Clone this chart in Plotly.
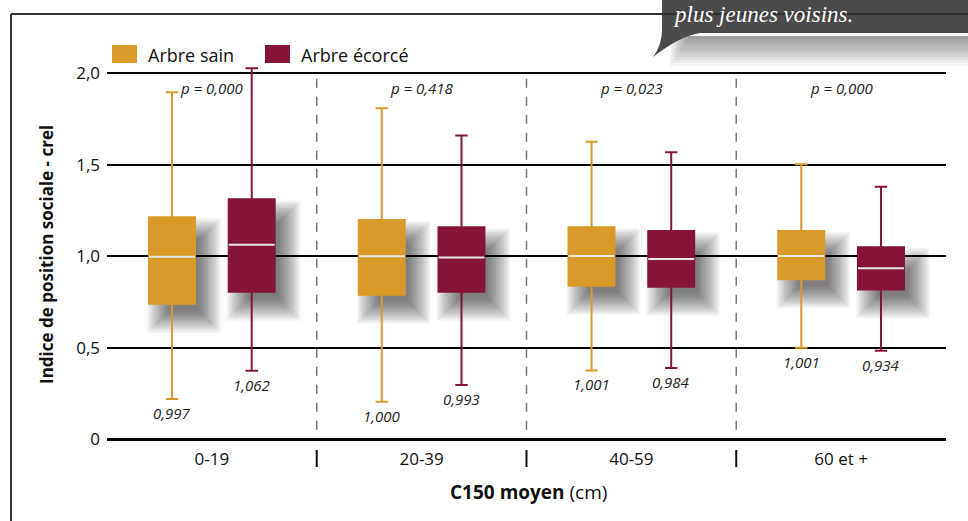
import plotly.graph_objects as go

# ---- data -------------------------------------------------------------
categories = ["0-19", "20-39", "40-59", "60 et +"]
p_values = ["0,000", "0,418", "0,023", "0,000"]

series_names = ["Arbre sain", "Arbre écorcé"]
series_colors = ["#D99A2B", "#861436"]

# per series: one value per diameter class
lower = [[0.219, 0.204, 0.375, 0.499], [0.373, 0.295, 0.388, 0.483]]
q1 = [[0.739, 0.789, 0.838, 0.873], [0.805, 0.805, 0.832, 0.818]]
median = [[0.997, 1.000, 1.001, 1.001], [1.062, 0.993, 0.984, 0.934]]
q3 = [[1.213, 1.197, 1.158, 1.137], [1.311, 1.158, 1.137, 1.049]]
upper = [[1.896, 1.809, 1.625, 1.503], [2.027, 1.660, 1.568, 1.379]]

y_ticks = [0, 0.5, 1.0, 1.5, 2.0]
y_ticktext = ["0", "0,5", "1,0", "1,5", "2,0"]

# ---- geometry helpers -------------------------------------------------
W, H = 968, 521
ML, MR, MT, MB = 107, 22, 55, 82
PW, PH = W - ML - MR, H - MT - MB
Y_RANGE = [0, 2.1]
X_RANGE = [-0.5, 3.5]
PX_X = (X_RANGE[1] - X_RANGE[0]) / PW   # data units per pixel (x)
PX_Y = (Y_RANGE[1] - Y_RANGE[0]) / PH   # data units per pixel (y)
FONT = "Open Sans"


def px(xp):
    return (xp - ML) / PW


def py(yp):
    return (H - MB - yp) / PH


offsets = [-0.19, 0.19]
box_w = 0.219

fig = go.Figure()
shapes = []
annotations = []

# soft drop shadows behind each box (stacked translucent rects)
n_layers = 18
for s in range(2):
    for i in range(len(categories)):
        c = i + offsets[s]
        dx, dy = 12 * PX_X, 15 * PX_Y
        for k in range(n_layers):
            g = -8 + 1.3 * k
            gx, gy = g * PX_X, g * PX_Y
            shapes.append(dict(
                type="rect", xref="x", yref="y", layer="between",
                x0=c - box_w / 2 + dx - gx, x1=c + box_w / 2 + dx + gx,
                y0=q1[s][i] - dy - gy, y1=q3[s][i] - dy + gy,
                fillcolor="rgba(0,0,0,0.034)", line=dict(width=0),
            ))

# boxes
for s in range(2):
    xs = [i + offsets[s] for i in range(len(categories))]
    fig.add_trace(go.Box(
        x=xs, q1=q1[s], median=median[s], q3=q3[s],
        lowerfence=lower[s], upperfence=upper[s],
        width=box_w, whiskerwidth=0.27,
        fillcolor=series_colors[s], line=dict(color=series_colors[s], width=2),
        name=series_names[s], showlegend=False, hoverinfo="skip",
    ))
    # light median strokes
    for x, m in zip(xs, median[s]):
        fig.add_trace(go.Scatter(
            x=[x - box_w / 2, x + box_w / 2], y=[m, m], mode="lines",
            line=dict(color="#e6e6e6", width=2), showlegend=False, hoverinfo="skip",
        ))
    # median values written under the lower whisker
    for x, lo, m in zip(xs, lower[s], median[s]):
        annotations.append(dict(
            x=x, y=lo, xref="x", yref="y", xanchor="center", yanchor="top", yshift=-2,
            showarrow=False, text="<i>" + f"{m:.3f}".replace(".", ",") + "</i>",
            font=dict(family=FONT, size=15, color="#222"),
        ))

# p-values
for i, p in enumerate(p_values):
    annotations.append(dict(
        x=i, y=1.918, xref="x", yref="y", xanchor="center", yanchor="middle",
        showarrow=False, text=f"<i>p = {p}</i>",
        font=dict(family=FONT, size=15, color="#222"),
    ))

# class separators: dashed inside the plot, solid ticks under the axis
for b in [0.5, 1.5, 2.5]:
    shapes.append(dict(type="line", xref="x", yref="y", x0=b, x1=b, y0=0.05, y1=2.0,
                       line=dict(color="#777", width=1.5, dash="dash"), layer="below"))
    shapes.append(dict(type="line", xref="x", yref="paper", x0=b, x1=b,
                       y0=py(467), y1=py(450), line=dict(color="#111", width=2)))

# frame
shapes.append(dict(type="line", xref="paper", yref="paper", x0=px(11), x1=px(11),
                   y0=py(14), y1=py(530), line=dict(color="#333", width=2)))

# legend
leg = [(112, 146), (265, 299)]
for s, (xb, xt) in enumerate(leg):
    shapes.append(dict(type="rect", xref="paper", yref="paper",
                       x0=px(xb), x1=px(xb + 25), y0=py(63), y1=py(45),
                       fillcolor=series_colors[s], line=dict(width=0)))
    annotations.append(dict(x=px(xt), y=py(55), xref="paper", yref="paper",
                            xanchor="left", yanchor="middle", showarrow=False,
                            text=series_names[s],
                            font=dict(family=FONT, size=18, color="#111")))

# callout box (top right) with soft shadow below
for k in range(10):
    shapes.append(dict(type="rect", xref="paper", yref="paper",
                       x0=px(688 - 2 * k), x1=px(968), y0=py(36 + 3 * (k + 1)), y1=py(36),
                       fillcolor="rgba(0,0,0,0.045)", line=dict(width=0)))
callout = (f"M {px(662)},{py(0)} L {px(968)},{py(0)} L {px(968)},{py(33)} "
           f"L {px(700)},{py(33)} Q {px(680)},{py(36)} {px(653)},{py(57)} "
           f"Q {px(662)},{py(45)} {px(662)},{py(30)} Z")
shapes.append(dict(type="path", xref="paper", yref="paper", path=callout,
                   fillcolor="#4b4b4b", line=dict(width=0)))
shapes.append(dict(type="line", xref="paper", yref="paper", x0=px(11), x1=px(968),
                   y0=py(14), y1=py(14), line=dict(color="#333", width=2)))
annotations.append(dict(x=px(671), y=py(15), xref="paper", yref="paper",
                        xanchor="left", yanchor="middle", showarrow=False,
                        text="<i>plus jeunes voisins.</i>",
                        font=dict(family="Liberation Serif", size=23, color="white")))

# axis titles
annotations.append(dict(x=px(47), y=py(255), xref="paper", yref="paper",
                        xanchor="center", yanchor="middle",
                        textangle=-90, showarrow=False,
                        text="<b>Indice de position sociale - crel</b>",
                        font=dict(family=FONT, size=17, color="#111")))
annotations.append(dict(x=px(528), y=py(492), xref="paper", yref="paper",
                        xanchor="center", yanchor="middle",
                        showarrow=False, text="<b>C150 moyen</b> (cm)",
                        font=dict(family=FONT, size=19, color="#111")))

fig.update_layout(
    width=W, height=H,
    margin=dict(l=ML, r=MR, t=MT, b=MB),
    paper_bgcolor="white", plot_bgcolor="white",
    shapes=shapes, annotations=annotations,
    showlegend=False,
    font=dict(family=FONT, color="#111"),
    xaxis=dict(range=X_RANGE, tickvals=list(range(len(categories))), ticktext=categories,
               showgrid=False, zeroline=False, showline=False, ticks="",
               tickfont=dict(size=17), ticklabelstandoff=8),
    yaxis=dict(range=Y_RANGE, tickvals=y_ticks, ticktext=y_ticktext,
               showgrid=True, gridcolor="#000", gridwidth=2,
               zeroline=True, zerolinecolor="#000", zerolinewidth=2.5,
               showline=False, ticks="", tickfont=dict(size=17), ticklabelstandoff=6),
)

fig.write_html("out.html")
